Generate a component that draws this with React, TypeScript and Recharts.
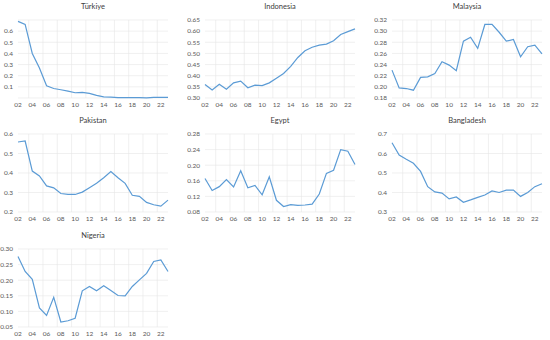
import * as React from "react";
import { LineChart, Line, XAxis, YAxis, CartesianGrid } from "recharts";

// Years 2002–2023, shown as two-digit labels on every other tick.
const YEARS = [
  2002, 2003, 2004, 2005, 2006, 2007, 2008, 2009, 2010, 2011, 2012,
  2013, 2014, 2015, 2016, 2017, 2018, 2019, 2020, 2021, 2022, 2023,
];
const LABEL_YEARS = [2002, 2004, 2006, 2008, 2010, 2012, 2014, 2016, 2018, 2020, 2022];
// Vertical gridlines fall between the labelled years.
const GRID_YEARS = [2003.5, 2005.5, 2007.5, 2009.5, 2011.5, 2013.5, 2015.5, 2017.5, 2019.5, 2021.5];

const TURKIYE = [
  0.688, 0.66, 0.4, 0.27, 0.11, 0.085, 0.074, 0.062, 0.047, 0.05, 0.041,
  0.024, 0.01, 0.008, 0.004, 0.004, 0.004, 0.004, 0.001, 0.005, 0.005, 0.005,
];
const INDONESIA = [
  0.361, 0.336, 0.362, 0.339, 0.368, 0.376, 0.346, 0.358, 0.356, 0.368, 0.389,
  0.41, 0.442, 0.482, 0.512, 0.528, 0.537, 0.542, 0.557, 0.585, 0.598, 0.61,
];
const MALAYSIA = [
  0.23, 0.198, 0.197, 0.194, 0.217, 0.218, 0.224, 0.245, 0.239, 0.229, 0.282,
  0.289, 0.269, 0.312, 0.312, 0.298, 0.282, 0.285, 0.254, 0.272, 0.275, 0.259,
];
const PAKISTAN = [
  0.559, 0.564, 0.41, 0.385, 0.334, 0.324, 0.295, 0.29, 0.29, 0.302, 0.324,
  0.347, 0.376, 0.407, 0.376, 0.347, 0.286, 0.28, 0.249, 0.237, 0.23, 0.261,
];
const EGYPT = [
  0.166, 0.135, 0.145, 0.163, 0.144, 0.186, 0.142, 0.148, 0.124, 0.17, 0.11,
  0.094, 0.099, 0.097, 0.098, 0.1, 0.126, 0.179, 0.187, 0.24, 0.236, 0.202,
];
const BANGLADESH = [
  0.655, 0.592, 0.57, 0.55, 0.508, 0.43, 0.403, 0.397, 0.367, 0.377, 0.35,
  0.362, 0.375, 0.387, 0.408, 0.4, 0.412, 0.412, 0.38, 0.4, 0.43, 0.445,
];
const NIGERIA = [
  0.276, 0.228, 0.203, 0.111, 0.087, 0.145, 0.066, 0.07, 0.078, 0.166, 0.18,
  0.166, 0.182, 0.167, 0.151, 0.15, 0.18, 0.201, 0.222, 0.26, 0.265, 0.228,
];

const TICKS_TURKIYE = [0, 0.1, 0.2, 0.3, 0.4, 0.5, 0.6, 0.7];
const TICKS_INDONESIA = [0.3, 0.35, 0.4, 0.45, 0.5, 0.55, 0.6, 0.65];
const TICKS_MALAYSIA = [0.18, 0.2, 0.22, 0.24, 0.26, 0.28, 0.3, 0.32];
const TICKS_PAKISTAN = [0.2, 0.3, 0.4, 0.5, 0.6];
const TICKS_EGYPT = [0.08, 0.12, 0.16, 0.2, 0.24, 0.28];
const TICKS_BANGLADESH = [0.3, 0.4, 0.5, 0.6, 0.7];
const TICKS_NIGERIA = [0.05, 0.1, 0.15, 0.2, 0.25, 0.3];

const LINE = "#5b9bd5";
const GRID = "#e6e6e6";
const TEXT = "#595959";
const FONT = "Lato, 'Open Sans', sans-serif";

// Map gridline years through the axis scale when available.
function gridX(props: any): number[] {
  const scale = props?.xAxis?.scale;
  if (typeof scale === "function") return GRID_YEARS.map((y) => scale(y));
  const { left, width } = props.offset;
  return GRID_YEARS.map((y) => left + ((y - 2002) / 21) * width);
}

type PanelProps = {
  title: string;
  values: number[];
  ticks: number[];
  digits: number;
  hideEnds?: boolean;
  left: number;
  top: number;
};

function Panel({ title, values, ticks, digits, hideEnds, left, top }: PanelProps) {
  const data = YEARS.map((year, i) => ({ year, v: values[i] }));
  const lo = ticks[0];
  const hi = ticks[ticks.length - 1];
  return (
    <div style={{ position: "absolute", left, top, width: 176, height: 112 }}>
      <div
        style={{
          position: "absolute",
          left: 18,
          width: 150,
          top: 2,
          textAlign: "center",
          fontSize: 7.5,
          lineHeight: "9px",
          color: "#404040",
          fontFamily: FONT,
        }}
      >
        {title}
      </div>
      <LineChart
        width={176}
        height={110}
        data={data}
        margin={{ top: 20, right: 8, bottom: 0, left: 0 }}
      >
        <CartesianGrid
          stroke={GRID}
          strokeWidth={0.6}
          verticalCoordinatesGenerator={gridX}
        />
        <XAxis
          dataKey="year"
          type="number"
          domain={[2002, 2023]}
          ticks={LABEL_YEARS}
          interval={0}
          tickFormatter={(y: number) => String(y).slice(2)}
          axisLine={false}
          tickLine={false}
          tickSize={0}
          tickMargin={4}
          height={12}
          tick={{ fontSize: 6.5, fill: TEXT, fontFamily: FONT }}
        />
        <YAxis
          type="number"
          domain={[lo, hi]}
          ticks={ticks}
          interval={0}
          tickFormatter={(v: number) =>
            hideEnds && (v === lo || v === hi) ? "" : v.toFixed(digits)
          }
          axisLine={false}
          tickLine={false}
          tickSize={0}
          tickMargin={5}
          width={18}
          tick={{ fontSize: 6.5, fill: TEXT, fontFamily: FONT }}
        />
        <Line
          type="linear"
          dataKey="v"
          stroke={LINE}
          strokeWidth={1.2}
          dot={false}
          isAnimationActive={false}
        />
      </LineChart>
    </div>
  );
}

export default function App() {
  return (
    <div
      style={{
        position: "absolute",
        left: 0,
        top: 0,
        width: 550,
        height: 340,
        background: "#fff",
      }}
    >
      <Panel title="Türkiye" values={TURKIYE} ticks={TICKS_TURKIYE} digits={1} hideEnds left={0} top={0} />
      <Panel title="Indonesia" values={INDONESIA} ticks={TICKS_INDONESIA} digits={2} left={187} top={0} />
      <Panel title="Malaysia" values={MALAYSIA} ticks={TICKS_MALAYSIA} digits={2} left={374} top={0} />
      <Panel title="Pakistan" values={PAKISTAN} ticks={TICKS_PAKISTAN} digits={1} left={0} top={114} />
      <Panel title="Egypt" values={EGYPT} ticks={TICKS_EGYPT} digits={2} left={187} top={114} />
      <Panel title="Bangladesh" values={BANGLADESH} ticks={TICKS_BANGLADESH} digits={1} left={374} top={114} />
      <Panel title="Nigeria" values={NIGERIA} ticks={TICKS_NIGERIA} digits={2} left={0} top={229} />
    </div>
  );
}
